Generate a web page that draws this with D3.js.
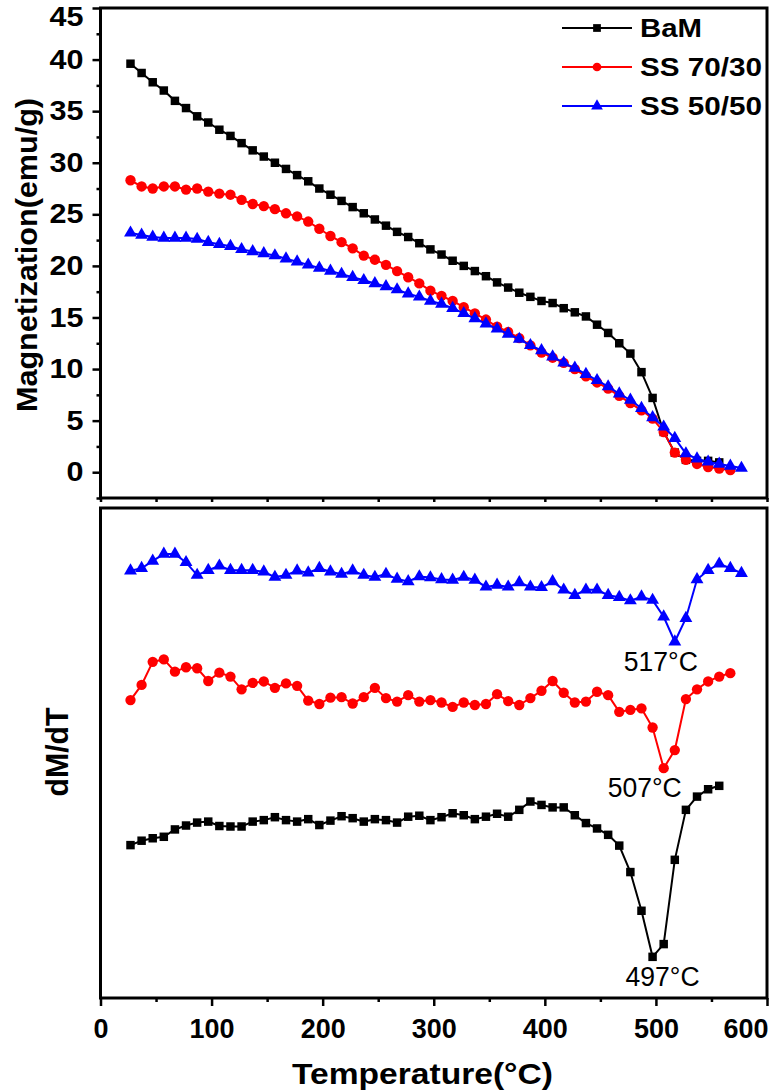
<!DOCTYPE html>
<html>
<head>
<meta charset="utf-8">
<script src="https://cdn.jsdelivr.net/npm/d3@7"></script>
<style>
  body { margin: 0; background: #fff; }
  svg { display: block; }
</style>
</head>
<body>
<div id="chart"></div>
<script>
// temperatures: every 10 degrees from 27 C
const tempBaM = d3.range(27, 558, 10);
const tempSS7030 = d3.range(27, 568, 10);
const tempSS5050 = d3.range(27, 578, 10);

// magnetization (emu/g)
const magBaM = [39.6, 38.7, 37.8, 37.0, 36.0, 35.3, 34.5, 33.9, 33.2, 32.6, 31.9, 31.2,
  30.6, 30.0, 29.4, 28.8, 28.2, 27.5, 26.9, 26.3, 25.7, 25.1, 24.5, 23.9, 23.3, 22.8,
  22.2, 21.6, 21.1, 20.5, 20.0, 19.5, 19.0, 18.4, 17.9, 17.4, 17.0, 16.6,
  16.4, 15.9, 15.5, 15.1, 14.3, 13.5, 12.5, 11.5, 9.7, 7.2, 3.9, 1.9, 1.2, 1.1, 1.1, 0.95];
const magSS7030 = [28.3, 27.7, 27.5, 27.7, 27.7, 27.4, 27.5, 27.2, 27.0, 26.9,
  26.4, 26.0, 25.8, 25.5, 25.1, 24.8, 24.3, 23.6, 22.9, 22.3,
  21.7, 21.0, 20.6, 20.1, 19.5, 18.9, 18.3, 17.6, 17.1, 16.6,
  16.0, 15.4, 14.8, 14.1, 13.6, 13.0, 12.3, 11.6, 11.1, 10.6,
  10.0, 9.3, 8.7, 8.1, 7.4, 6.7, 6.0, 5.2, 3.9, 1.9,
  1.2, 0.8, 0.5, 0.35, 0.2];
const magSS5050 = [23.2, 23.0, 22.8, 22.7, 22.7, 22.7, 22.6, 22.3, 22.1, 21.9,
  21.6, 21.4, 21.2, 21.0, 20.7, 20.4, 20.1, 19.8, 19.5, 19.2,
  18.9, 18.6, 18.3, 18.0, 17.7, 17.3, 17.0, 16.6, 16.3, 15.9,
  15.4, 14.9, 14.4, 13.9, 13.4, 12.9, 12.3, 11.8, 11.2, 10.6,
  10.1, 9.5, 8.9, 8.3, 7.6, 7.0, 6.2, 5.3, 4.4, 3.3,
  1.8, 1.3, 1.0, 0.8, 0.6, 0.4];

// dM/dT, arbitrary units, curves already offset
const dmBaM = [31.2, 32.1, 32.6, 32.9, 34.4, 35.2, 35.8, 36.0, 35.1, 35.0,
  35.0, 36.0, 36.3, 36.9, 36.3, 36.0, 36.5, 35.3, 36.2, 37.1,
  36.7, 36.0, 36.5, 36.3, 35.8, 37.0, 37.2,
  36.3, 36.9, 37.7, 37.3, 36.5, 37.0, 37.6, 37.0, 38.4, 40.1,
  39.4, 38.9, 38.9, 37.3, 35.7, 34.6, 33.3, 31.1, 25.7, 17.8,
  8.4, 11.0, 28.2, 38.4, 41.1, 42.6, 43.3];
const dmSS7030 = [60.8, 63.9, 68.6, 69.1, 66.6, 67.5, 67.3, 64.7, 66.4, 65.6,
  63.0, 64.3, 64.6, 63.3, 64.2, 63.7, 60.7, 60.0, 61.3, 61.4,
  60.1, 61.4, 63.3, 61.2, 60.5, 61.8, 60.5,
  60.8, 60.3, 59.4, 60.3, 59.8, 60.0, 62.0, 60.6, 59.8, 61.2,
  62.7, 64.7, 62.3, 60.3, 60.5, 62.5, 61.8, 58.4, 58.8, 59.1,
  55.2, 46.9, 50.6, 61.0, 63.0, 64.6, 65.6, 66.3];
const dmSS5050 = [87.2, 87.7, 89.2, 90.6, 90.6, 88.9, 86.3, 87.3, 88.2, 87.3,
  87.3, 87.3, 87.0, 85.9, 86.3, 87.2, 86.8, 87.7, 87.0, 86.5,
  87.2, 86.3, 85.9, 86.5,
  85.5, 85.0, 86.0, 85.8, 85.4, 85.3, 85.9, 85.3, 83.9, 84.3,
  83.9, 84.8, 83.9, 83.8, 85.0, 83.3, 82.2, 83.3, 83.3, 82.2,
  81.8, 81.1, 81.9, 81.2, 77.8, 72.7, 77.5, 85.4, 87.3, 88.6,
  87.7, 86.7];

const seriesNames = ["BaM", "SS 70/30", "SS 50/50"];
const seriesColors = ["#000000", "#ff0000", "#0000ff"];
const seriesSymbols = [d3.symbolSquare, d3.symbolCircle, d3.symbolTriangle];

const magTicks = [0, 5, 10, 15, 20, 25, 30, 35, 40, 45];
const tempTicks = [0, 100, 200, 300, 400, 500, 600];
const peakTemps = [497, 507, 517];
const peakLabels = ["497°C", "507°C", "517°C"];

const width = 772, height = 1092;
const font = "'Liberation Sans', Arial, sans-serif";

const svg = d3.select("#chart").append("svg")
    .attr("width", width)
    .attr("height", height);

const x = d3.scaleLinear([0, 600], [100.5, 767]);
const yTop = d3.scaleLinear([-2.5, 45], [498, 8]);
const yBot = d3.scaleLinear([0, 100], [998, 508]);

const sets = [
  {temp: tempBaM, mag: magBaM, dm: dmBaM},
  {temp: tempSS7030, mag: magSS7030, dm: dmSS7030},
  {temp: tempSS5050, mag: magSS5050, dm: dmSS5050}
];

function styleTicks(g, size, w) {
  g.select(".domain").remove();
  g.selectAll("line").attr("stroke", "#000").attr("stroke-width", w || 2.5);
  g.selectAll("text")
      .attr("font-family", font)
      .attr("font-weight", "bold")
      .attr("font-size", size)
      .attr("fill", "#000");
}

// ---- top panel axes
svg.append("g")
    .attr("transform", `translate(${x(0)},0)`)
    .call(d3.axisLeft(yTop).tickValues(d3.range(-2.5, 45, 5)).tickSize(4).tickFormat(""))
    .call(g => styleTicks(g, 27));

svg.append("g")
    .attr("transform", `translate(${x(0)},0)`)
    .call(d3.axisLeft(yTop).tickValues(magTicks).tickSize(8).tickPadding(9))
    .call(g => styleTicks(g, 27))
    .call(g => g.selectAll("text")
        .attr("textLength", d => String(d).length * 17)
        .attr("lengthAdjust", "spacingAndGlyphs")
        .attr("y", d => d === 45 ? 9 : 0));

svg.append("g")
    .attr("transform", `translate(0,${yTop(-2.5)})`)
    .call(d3.axisBottom(x).tickValues(d3.range(0, 601, 50)).tickSize(4).tickFormat(""))
    .call(g => styleTicks(g, 26));

// ---- bottom panel axes
svg.append("g")
    .attr("transform", `translate(0,${yBot(0)})`)
    .call(d3.axisBottom(x).tickValues(d3.range(50, 600, 100)).tickSize(4).tickFormat(""))
    .call(g => styleTicks(g, 28));

svg.append("g")
    .attr("transform", `translate(0,${yBot(0)})`)
    .call(d3.axisBottom(x).tickValues(tempTicks).tickSize(8).tickPadding(12))
    .call(g => styleTicks(g, 28))
    .call(g => g.selectAll("text")
        .attr("textLength", d => String(d).length * 15)
        .attr("lengthAdjust", "spacingAndGlyphs")
        .attr("text-anchor", d => d === 600 ? "end" : "middle")
        .attr("x", d => d === 600 ? 1 : 0));

// frames
[[yTop(45), yTop(-2.5)], [yBot(100), yBot(0)]].forEach(([t, b]) => {
  svg.append("rect")
      .attr("x", x(0)).attr("y", t)
      .attr("width", x(600) - x(0)).attr("height", b - t)
      .attr("fill", "none").attr("stroke", "#000").attr("stroke-width", 3);
});

// ---- curves
const sym = d3.symbol();
const markerSize = [72, 84, 72];

sets.forEach((s, i) => {
  const top = s.temp.map((t, k) => [t, s.mag[k]]);
  const bot = s.temp.map((t, k) => [t, s.dm[k]]);

  [[top, yTop], [bot, yBot]].forEach(([pts, y]) => {
    svg.append("path")
        .attr("d", d3.line().x(d => x(d[0])).y(d => y(d[1]))(pts))
        .attr("fill", "none")
        .attr("stroke", seriesColors[i])
        .attr("stroke-width", 2);

    svg.append("g")
        .selectAll("path")
        .data(pts)
        .join("path")
        .attr("transform", d => `translate(${x(d[0])},${y(d[1])})`)
        .attr("d", sym.type(seriesSymbols[i]).size(markerSize[i]))
        .attr("fill", seriesColors[i]);
  });
});

// peak labels
const labelShift = [10, -19, -14];
const peakVals = [dmBaM, dmSS7030, dmSS5050].map((arr, i) => arr[sets[i].temp.indexOf(peakTemps[i])]);
peakLabels.forEach((lab, i) => {
  svg.append("text")
      .attr("x", x(peakTemps[i]) + labelShift[i])
      .attr("y", yBot(peakVals[i]) + 29)
      .attr("text-anchor", "middle")
      .attr("font-family", font)
      .attr("font-size", 27)
      .attr("textLength", 74)
      .attr("lengthAdjust", "spacingAndGlyphs")
      .text(lab);
});

// legend
const legend = svg.append("g").attr("transform", "translate(562,28)");
seriesNames.forEach((name, i) => {
  const row = legend.append("g").attr("transform", `translate(0,${i * 39})`);
  row.append("line")
      .attr("x1", 0).attr("x2", 70)
      .attr("stroke", seriesColors[i]).attr("stroke-width", 2);
  row.append("path")
      .attr("transform", "translate(35,0)")
      .attr("d", d3.symbol().type(seriesSymbols[i]).size(60)())
      .attr("fill", seriesColors[i]);
  row.append("text")
      .attr("x", 78).attr("y", 9)
      .attr("font-family", font)
      .attr("font-weight", "bold")
      .attr("font-size", 26)
      .attr("textLength", i === 0 ? 62 : 122)
      .attr("lengthAdjust", "spacingAndGlyphs")
      .text(name);
});

// axis titles
svg.append("text")
    .attr("transform", "translate(37,255) rotate(-90)")
    .attr("text-anchor", "middle")
    .attr("font-family", font).attr("font-weight", "bold").attr("font-size", 29)
    .attr("textLength", 314).attr("lengthAdjust", "spacingAndGlyphs")
    .text("Magnetization(emu/g)");

svg.append("text")
    .attr("transform", "translate(68,752) rotate(-90)")
    .attr("text-anchor", "middle")
    .attr("font-family", font).attr("font-weight", "bold").attr("font-size", 31)
    .attr("textLength", 89).attr("lengthAdjust", "spacingAndGlyphs")
    .text("dM/dT");

svg.append("text")
    .attr("x", 422.5).attr("y", 1084)
    .attr("text-anchor", "middle")
    .attr("font-family", font).attr("font-weight", "bold").attr("font-size", 30)
    .attr("textLength", 261).attr("lengthAdjust", "spacingAndGlyphs")
    .text("Temperature(°C)");
</script>
</body>
</html>
